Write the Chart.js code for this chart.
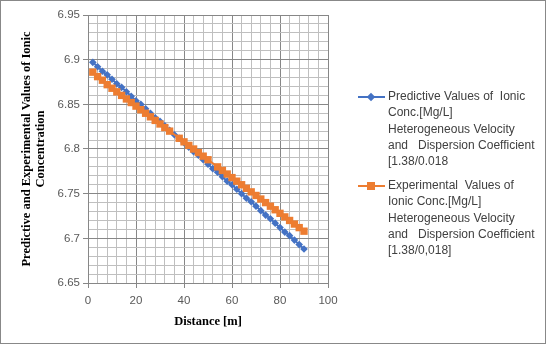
<!DOCTYPE html>
<html>
<head>
<meta charset="utf-8">
<script src="https://cdn.jsdelivr.net/npm/chart.js@4"></script>
<style>
  body { margin: 0; background: #fff; }
  #wrap { position: relative; width: 547px; height: 345px; }
  #frame { position: absolute; left: 0; top: 0; width: 546px; height: 344px; box-sizing: border-box; border: 1px solid #888; pointer-events: none; }
  .leg { position: absolute; left: 388px; font: 12px "Liberation Sans", Arial, sans-serif; line-height: 16.25px; color: #404040; white-space: pre; }
  .ico { position: absolute; left: 358px; width: 27px; height: 2px; }
  .mk { position: absolute; }
</style>
</head>
<body>
<div id="wrap">
  <canvas id="eChart1" width="547" height="345"></canvas>
  <div id="frame"></div>
  <div class="ico" style="top:96px;background:#4472C4"></div>
  <div class="mk" style="left:368px;top:94px;width:6px;height:6px;background:#4472C4;transform:rotate(45deg)"></div>
  <div class="leg" style="top:88px">Predictive Values of  Ionic
Conc.[Mg/L]
Heterogeneous Velocity
and   Dispersion Coefficient
[1.38/0.018</div>
  <div class="ico" style="top:185px;background:#ED7D31"></div>
  <div class="mk" style="left:367px;top:182px;width:8px;height:8px;background:#ED7D31"></div>
  <div class="leg" style="top:177px">Experimental  Values of
Ionic Conc.[Mg/L]
Heterogeneous Velocity
and   Dispersion Coefficient
[1.38/0,018]</div>
</div>
<script>
// distance [m] for the predictive series
var distances = [2, 4, 6, 8, 10, 12, 14, 16, 18, 20, 22, 24, 26, 28, 30, 32, 34, 36, 38, 40, 42, 44,
  46, 48, 50, 52, 54, 56, 58, 60, 62, 64, 66, 68, 70, 72, 74, 76, 78, 80, 82, 84, 86, 88, 90];
var predictive = [6.897, 6.892, 6.887, 6.883, 6.878, 6.873, 6.869, 6.864, 6.859, 6.854, 6.850, 6.845,
  6.840, 6.835, 6.831, 6.826, 6.821, 6.816, 6.812, 6.807, 6.802, 6.797, 6.793, 6.788, 6.783, 6.778,
  6.774, 6.769, 6.764, 6.760, 6.755, 6.750, 6.745, 6.741, 6.736, 6.731, 6.726, 6.722, 6.717, 6.712,
  6.707, 6.703, 6.698, 6.693, 6.688];

// experimental series (no readings at 36 and 52)
var expDistances = [2, 4, 6, 8, 10, 12, 14, 16, 18, 20, 22, 24, 26, 28, 30, 32, 34, 38, 40, 42, 44,
  46, 48, 50, 54, 56, 58, 60, 62, 64, 66, 68, 70, 72, 74, 76, 78, 80, 82, 84, 86, 88, 90];
var experimental = [6.886, 6.881, 6.877, 6.872, 6.868, 6.864, 6.860, 6.856, 6.852, 6.848, 6.844, 6.840,
  6.836, 6.832, 6.828, 6.824, 6.820, 6.812, 6.808, 6.804, 6.800, 6.796, 6.792, 6.788, 6.780, 6.776,
  6.772, 6.768, 6.764, 6.760, 6.756, 6.752, 6.748, 6.744, 6.740, 6.736, 6.732, 6.728, 6.724, 6.720,
  6.716, 6.712, 6.708];

var xTicks = [0, 20, 40, 60, 80, 100];
var yTicks = [6.65, 6.7, 6.75, 6.8, 6.85, 6.9, 6.95];

function pts(xs, ys) {
  return xs.map(function(x, i) { return {x: x, y: ys[i]}; });
}
function isMajorX(v) { return xTicks.indexOf(v) >= 0; }
function isMajorY(v) {
  return yTicks.some(function(t) { return Math.abs(t - v) < 1e-6; });
}

var tickFont = {family: '"Liberation Sans", Arial, sans-serif', size: 11.5};
var titleFont = {family: '"Liberation Serif", "Times New Roman", serif', size: 12.5, weight: 'bold', lineHeight: '14px'};

var ctx1 = document.getElementById('eChart1').getContext('2d');
var myChart1 = new Chart(ctx1, {
  type: 'scatter',
  data: {
    datasets: [{
      label: 'Predictive Values of Ionic Conc.[Mg/L] Heterogeneous Velocity and Dispersion Coefficient [1.38/0.018',
      data: pts(distances, predictive),
      showLine: true,
      borderColor: '#4472C4',
      backgroundColor: '#4472C4',
      borderWidth: 2,
      pointStyle: 'rectRot',
      pointRadius: 3.8,
      pointBorderWidth: 0,
      order: 1
    }, {
      label: 'Experimental Values of Ionic Conc.[Mg/L] Heterogeneous Velocity and Dispersion Coefficient [1.38/0,018]',
      data: pts(expDistances, experimental),
      showLine: true,
      borderColor: '#ED7D31',
      backgroundColor: '#ED7D31',
      borderWidth: 2,
      pointStyle: 'rect',
      pointRadius: 5.2,
      pointBorderWidth: 0,
      order: 0
    }]
  },
  options: {
    responsive: false,
    animation: false,
    layout: {
      padding: {top: 15, right: 219, left: 0, bottom: 0}
    },
    plugins: {
      legend: {display: false},
      tooltip: {enabled: false}
    },
    scales: {
      x: {
        type: 'linear',
        min: 0,
        max: 100,
        afterFit: function(s) { s.height = 62; },
        ticks: {
          stepSize: 4,
          autoSkip: false,
          maxRotation: 0,
          padding: 6,
          color: '#595959',
          font: tickFont,
          callback: function(v) { return isMajorX(v) ? String(v) : ''; }
        },
        grid: {
          color: function(c) { return isMajorX(c.tick.value) ? '#878787' : '#bfbfbf'; },
          tickColor: function(c) { return isMajorX(c.tick.value) ? '#878787' : 'rgba(0,0,0,0)'; },
          tickLength: 5,
          lineWidth: 1
        },
        border: {color: '#878787'},
        title: {
          display: true,
          text: 'Distance [m]',
          color: '#000',
          font: titleFont,
          padding: {top: 0, bottom: 16}
        }
      },
      y: {
        min: 6.65,
        max: 6.95,
        afterFit: function(s) { s.width = 88; },
        ticks: {
          stepSize: 0.01,
          autoSkip: false,
          padding: 3,
          color: '#595959',
          font: tickFont,
          callback: function(v) { return isMajorY(v) ? String(Math.round(v * 100) / 100) : ''; }
        },
        grid: {
          color: function(c) { return isMajorY(c.tick.value) ? '#878787' : '#bfbfbf'; },
          tickColor: function(c) { return isMajorY(c.tick.value) ? '#878787' : 'rgba(0,0,0,0)'; },
          tickLength: 5,
          lineWidth: 1
        },
        border: {color: '#878787'},
        title: {
          display: true,
          text: ['Predictive and Experimental Values of Ionic', 'Concentration'],
          color: '#000',
          font: titleFont,
          padding: {top: 20, bottom: 0}
        }
      }
    }
  }
});
</script>
</body>
</html>
